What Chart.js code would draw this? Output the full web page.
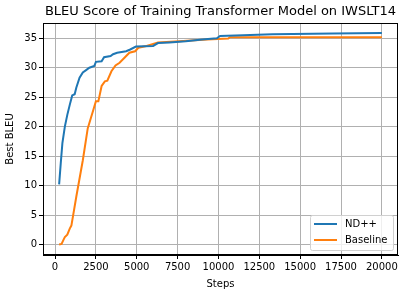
<!DOCTYPE html>
<html>
<head>
<meta charset="utf-8">
<script src="https://cdn.jsdelivr.net/npm/chart.js@4"></script>
<style>
  body { margin: 0; background: #fff; }
  #wrap { width: 407px; height: 295px; }
</style>
</head>
<body>
<div id="wrap"><canvas id="bleu" width="407" height="295"></canvas></div>
<script>
//--------------------------------------------- data
const ndSteps = [250, 350, 450, 600, 750, 900, 1050, 1200, 1300, 1500, 1700, 1900, 2100, 2400, 2500, 2850, 3000, 3400, 3550, 3800, 4350, 4600, 4950, 6000, 6300, 7000, 8000, 9000, 9900, 10100, 11500, 13300, 17000, 20000];
const ndBleu = [10.2, 13.8, 17.2, 20.0, 22.0, 23.7, 25.3, 25.5, 26.6, 28.3, 29.2, 29.6, 30.0, 30.3, 31.0, 31.1, 31.8, 32.0, 32.3, 32.55, 32.8, 33.1, 33.6, 33.7, 34.2, 34.3, 34.5, 34.8, 35.0, 35.4, 35.5, 35.7, 35.8, 35.9];

const baseSteps = [250, 400, 500, 600, 750, 900, 1000, 1300, 1700, 2000, 2350, 2500, 2650, 2850, 3050, 3200, 3450, 3700, 3950, 4250, 4550, 4900, 5100, 5600, 6300, 7600, 9300, 10600, 10700, 20000];
const baseBleu = [0, 0.1, 0.7, 1.25, 1.65, 2.7, 3.2, 8.1, 14.3, 19.7, 22.9, 24.3, 24.3, 26.9, 27.7, 27.8, 29.4, 30.4, 30.85, 31.7, 32.55, 32.8, 33.4, 33.7, 34.3, 34.5, 34.8, 34.95, 35.2, 35.2];

const xTicks = [0, 2500, 5000, 7500, 10000, 12500, 15000, 17500, 20000];
const yTicks = [0, 5, 10, 15, 20, 25, 30, 35];

const seriesNames = ['ND++', 'Baseline'];
const seriesColors = ['#1f77b4', '#ff7f0e'];

//--------------------------------------------- helpers
function pairs(xs, ys) {
    return xs.map((x, i) => ({ x: x, y: ys[i] }));
}

const font = 'DejaVu Sans';

// box round the plot, title and legend, drawn like matplotlib
const framePlugin = {
    id: 'frame',
    afterDraw(chart) {
        const ctx = chart.ctx;
        const a = chart.chartArea;
        ctx.save();
        ctx.strokeStyle = '#000';
        ctx.lineWidth = 1;
        ctx.strokeRect(a.left + 0.5, a.top + 0.5, a.right - a.left - 1, a.bottom - a.top - 1);

        ctx.fillStyle = '#000';
        ctx.font = '13px "' + font + '"';
        ctx.textAlign = 'center';
        ctx.textBaseline = 'middle';
        ctx.fillText('BLEU Score of Training Transformer Model on IWSLT14', (a.left + a.right) / 2, 12);

        // legend, lower right
        const w = 83, h = 35;
        const lx = a.right - 5 - w, ly = a.bottom - 5 - h;
        ctx.fillStyle = 'rgba(255,255,255,0.8)';
        ctx.strokeStyle = '#d0d0d0';
        ctx.beginPath();
        ctx.roundRect(lx + 0.5, ly + 0.5, w, h, 2);
        ctx.fill();
        ctx.stroke();
        ctx.font = '10px "' + font + '"';
        ctx.textAlign = 'left';
        seriesNames.forEach((name, i) => {
            const yy = ly + 9 + i * 16;
            ctx.strokeStyle = seriesColors[i];
            ctx.lineWidth = 2;
            ctx.beginPath();
            ctx.moveTo(lx + 4, yy);
            ctx.lineTo(lx + 27, yy);
            ctx.stroke();
            ctx.fillStyle = '#000';
            ctx.fillText(name, lx + 35, yy);
        });
        ctx.restore();
    }
};

//--------------------------------------------- chart
const dataBleu = {
    datasets: [{
        label: seriesNames[0],
        data: pairs(ndSteps, ndBleu),
        borderColor: seriesColors[0],
        borderWidth: 2,
        pointRadius: 0,
        tension: 0
    }, {
        label: seriesNames[1],
        data: pairs(baseSteps, baseBleu),
        borderColor: seriesColors[1],
        borderWidth: 2,
        pointRadius: 0,
        tension: 0
    }]
};

const configBleu = {
    type: 'line',
    data: dataBleu,
    plugins: [framePlugin],
    options: {
        responsive: false,
        animation: false,
        layout: { padding: { top: 23, right: 9, left: 0, bottom: 5 } },
        plugins: {
            legend: { display: false },
            tooltip: { enabled: false }
        },
        scales: {
            x: {
                type: 'linear',
                min: -737,
                max: 20987,
                afterBuildTicks: (s) => { s.ticks = xTicks.map(v => ({ value: v })); },
                afterFit: (s) => { s.height = 35; },
                grid: { color: '#b0b0b0', tickColor: '#000', tickLength: 4 },
                border: { color: '#000' },
                ticks: { color: '#000', font: { family: font, size: 10 }, padding: 2, maxRotation: 0, callback: (v) => String(v) },
                title: { display: true, text: 'Steps', color: '#000', font: { family: font, size: 10 }, padding: { top: 1, bottom: 0 } }
            },
            y: {
                min: -1.79,
                max: 37.6,
                afterBuildTicks: (s) => { s.ticks = yTicks.map(v => ({ value: v })); },
                afterFit: (s) => { s.width = 43; },
                grid: { color: '#b0b0b0', tickColor: '#000', tickLength: 4 },
                border: { color: '#000' },
                ticks: { color: '#000', font: { family: font, size: 10 }, padding: 2, callback: (v) => String(v) },
                title: { display: true, text: 'Best BLEU', color: '#000', font: { family: font, size: 10 }, padding: { top: 4, bottom: 0 } }
            }
        }
    }
};

var chartBleu = new Chart(
    document.getElementById('bleu'),
    configBleu
);
</script>
</body>
</html>
